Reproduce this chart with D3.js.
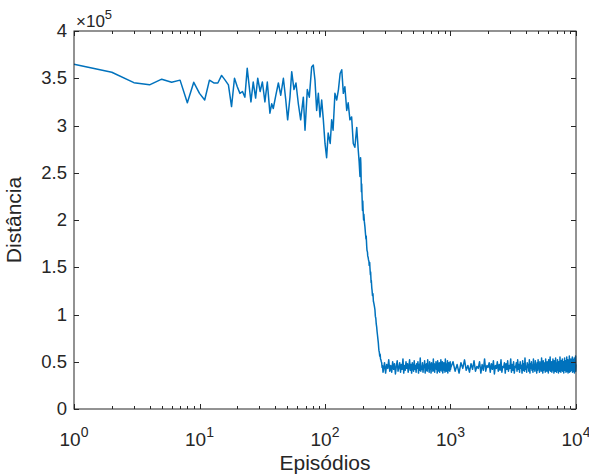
<!DOCTYPE html>
<html>
<head>
<meta charset="utf-8">
<script src="https://cdn.jsdelivr.net/npm/d3@7"></script>
<style>
  body { margin: 0; background: #fff; }
  svg { display: block; font-family: "Liberation Sans", Arial, sans-serif; }
</style>
</head>
<body>
<svg id="vis"></svg>
<script>
// episodes 1..290 read one by one (distance in units of 1e5)
const headEpisodes = [1,2,3,4,5,6,7,8,9,10,11,12,13,14,15,16,17,18,19,20,21,22,23,24,
    25.7,26.8,28,29.1,30.4,31.7,33.2,34.7,36.4,37.6,38.7,40.7,42.5,44.4,46.6,48.6,50.4,52.6,54.3,56.6,58.7,
    61.3,64,67.2,69.3,72.3,75,78.3,80.7,83.2,85.8,88.5,91.2,94.1,97,100,103,106,110,113,116,120,124,128,
    132,136,140,144,149,153,158,163,168,173,179,184,
    187,190,192,193,195,196,197,199,200,201,203,204,206,208,210,212,213,215,216,218,219,221,222,
    224,225,227,228,230,231,233,234,236,237,239,241,243,245,248,250,252,254,256,258,260,262,264,266,268,269,271,273,275,277,279,281,283,285,287,290];
const headValues = [3.648,3.563,3.453,3.43,3.49,3.457,3.48,3.24,3.457,3.34,3.27,3.48,3.45,3.45,3.53,3.48,3.43,3.20,3.50,3.41,3.34,3.36,3.30,3.605,
    3.25,3.46,3.29,3.50,3.36,3.46,3.25,3.46,3.13,3.23,3.18,3.33,3.45,3.32,3.50,3.28,3.06,3.30,3.57,3.38,3.45,
    3.23,3.06,3.30,2.95,3.38,3.30,3.62,3.64,3.48,3.16,3.34,3.09,3.27,3.06,2.81,2.66,2.92,2.81,3.06,2.95,3.34,3.27,3.38,
    3.55,3.59,3.34,3.41,3.16,3.24,3.06,3.09,2.81,2.77,2.98,2.74,
    2.62,2.46,2.66,2.60,2.30,2.38,2.28,2.10,2.20,2.12,2.00,2.06,1.98,1.93,1.86,1.80,1.83,1.72,1.68,1.66,1.62,1.60,1.58,
    1.56,1.52,1.55,1.50,1.42,1.45,1.34,1.36,1.28,1.26,1.20,1.22,1.14,1.12,1.08,1.05,0.98,0.96,0.90,0.87,0.82,0.78,0.74,0.70,0.64,0.62,0.60,0.56,0.58,0.53,0.52,0.50,0.49,0.44,0.46,0.39];

// plateau, sampled evenly between the given episodes (distance in thousands)
const tailARange = [292, 1000];
const tailAValues = [41,49,38,47,43,52,40,46,39,50,42,48,37,45,51,40,44,49,39,47,42,53,38,46,41,50,43,48,39,45,
    52,41,47,38,49,44,40,51,42,46,39,48,43,50,38,47,41,54,40,45,42,49,39,46,44,51,38,47,41,48,
    40,52,43,45,39,50,42,47,38,49,44,46,40,53,41,48,39,45,43,50,42,47,38,51,40,46,44,49,39,48,
    41,52,43,45,40,50,38,47,42,49,41,46,39,53,44,48,40,45,42,51,38,47,43,49,41,46,40,50,42];
const tailBRange = [1006, 10000];
const tailBValues = [44,50,40,47,38,49,43,52,41,46,39,48,42,51,40,45,43,50,38,47,
    41,53,40,46,44,49,39,48,42,51,37,46,43,50,40,47,41,52,39,45,
    44,49,38,48,42,51,40,46,43,53,39,47,41,50,38,45,44,49,40,52,
    42,47,39,50,43,46,38,51,41,48,40,54,42,45,39,49,44,47,40,52,
    38,48,43,50,41,46,39,53,42,47,40,51,44,45,38,49,41,52,43,46,
    39,50,42,48,40,54,43,46,38,51,41,49,44,47,39,53,42,45,40,50,
    43,48,38,52,41,46,44,55,40,47,42,50,39,48,43,53,41,45,38,51,
    44,47,40,54,42,49,39,46,43,52,41,48,38,50,44,47,40,55,42,46,
    39,51,43,48,41,53,40,46,44,50,38,49,42,54,41,47,43,51,39,48,
    42,55,40,46,44,52,38,49,43,50,41,56,39,47,44,51,40,53,42,48,
    41,50,43,55,39,47,44,52,40,49,42,54,38,48,43,51,41,56,40,47];

const yTicks = [0,0.5,1,1.5,2,2.5,3,3.5,4];   // x 1e5
const xDecades = [0,1,2,3,4];

const W = 589, H = 476;
const MARGINS = {top: 31, right: 13, bottom: 67, left: 74};
const AXIS = "#262626";
const LINE = "#0072BD";

function buildSeries(){
    if (headEpisodes.length !== headValues.length) console.warn("head arrays differ", headEpisodes.length, headValues.length);
    let pts = headEpisodes.map((e, i) => ({ep: e, d: headValues[i] * 1e5}));
    [[tailARange, tailAValues], [tailBRange, tailBValues]].forEach(function(t){
        let r = t[0], v = t[1];
        v.forEach(function(d, i){
            pts.push({ep: r[0] + i * (r[1] - r[0]) / (v.length - 1), d: d * 1000});
        });
    });
    return pts;
}

function setup(){
    let innerW = W - MARGINS.left - MARGINS.right;
    let innerH = H - MARGINS.top - MARGINS.bottom;

    let svg = d3.select("#vis").attr("width", W).attr("height", H);

    let x = d3.scaleLog().domain([1, 1e4]).range([0, innerW]);
    let y = d3.scaleLinear().domain([0, 4e5]).range([innerH, 0]);

    let g = svg.append("g")
        .attr("transform", "translate(" + MARGINS.left + "," + MARGINS.top + ")");

    let data = buildSeries();

    g.append("path")
        .datum(data)
        .attr("fill", "none")
        .attr("stroke", LINE)
        .attr("stroke-width", 1.5)
        .attr("stroke-linejoin", "round")
        .attr("d", d3.line().defined(d => !isNaN(d.d)).x(d => x(d.ep)).y(d => y(d.d)));

    // ticks (inside, on all four sides)
    let minor = [];
    xDecades.slice(0, -1).forEach(function(k){
        for (let m = 2; m <= 9; m++) minor.push(m * Math.pow(10, k));
    });
    let majors = xDecades.map(k => Math.pow(10, k));

    let tickG = g.append("g").attr("stroke", AXIS).attr("stroke-width", 1);
    majors.concat(minor).forEach(function(v){
        let len = majors.indexOf(v) >= 0 ? 5 : 3;
        let px = Math.round(x(v)) + 0.5;
        tickG.append("line").attr("x1", px).attr("x2", px).attr("y1", innerH).attr("y2", innerH - len);
        tickG.append("line").attr("x1", px).attr("x2", px).attr("y1", 0).attr("y2", len);
    });
    yTicks.forEach(function(v){
        let py = Math.round(y(v * 1e5)) + 0.5;
        tickG.append("line").attr("x1", 0).attr("x2", 5).attr("y1", py).attr("y2", py);
        tickG.append("line").attr("x1", innerW).attr("x2", innerW - 5).attr("y1", py).attr("y2", py);
    });

    // box
    g.append("rect")
        .attr("x", 0).attr("y", 0)
        .attr("width", innerW).attr("height", innerH)
        .attr("fill", "none")
        .attr("stroke", AXIS)
        .attr("stroke-width", 1);

    // y tick labels
    g.selectAll(".ylab")
        .data(yTicks)
        .enter()
        .append("text")
        .attr("x", -7)
        .attr("y", d => y(d * 1e5) + 6)
        .attr("text-anchor", "end")
        .attr("font-size", 18.5)
        .attr("fill", AXIS)
        .text(d => d);

    // x tick labels 10^k
    xDecades.forEach(function(k){
        let t = g.append("text")
            .attr("x", x(Math.pow(10, k)))
            .attr("y", innerH + 37)
            .attr("text-anchor", "middle")
            .attr("font-size", 19)
            .attr("fill", AXIS);
        t.append("tspan").text("10");
        t.append("tspan").attr("dy", -9).attr("font-size", 14).text(k);
    });

    // exponent label
    let ex = g.append("text")
        .attr("x", 2)
        .attr("y", -4)
        .attr("font-size", 17)
        .attr("fill", AXIS);
    ex.append("tspan").text("\u00d710");
    ex.append("tspan").attr("dy", -8).attr("font-size", 13).text("5");

    // axis titles
    g.append("text")
        .attr("x", innerW / 2)
        .attr("y", innerH + 61)
        .attr("text-anchor", "middle")
        .attr("font-size", 21)
        .attr("fill", AXIS)
        .text("Episódios");

    g.append("text")
        .attr("transform", "translate(" + (-53) + "," + (innerH / 2) + ") rotate(-90)")
        .attr("text-anchor", "middle")
        .attr("font-size", 21)
        .attr("fill", AXIS)
        .text("Distância");
}

window.onload = function(){
    setup();
};
</script>
</body>
</html>
